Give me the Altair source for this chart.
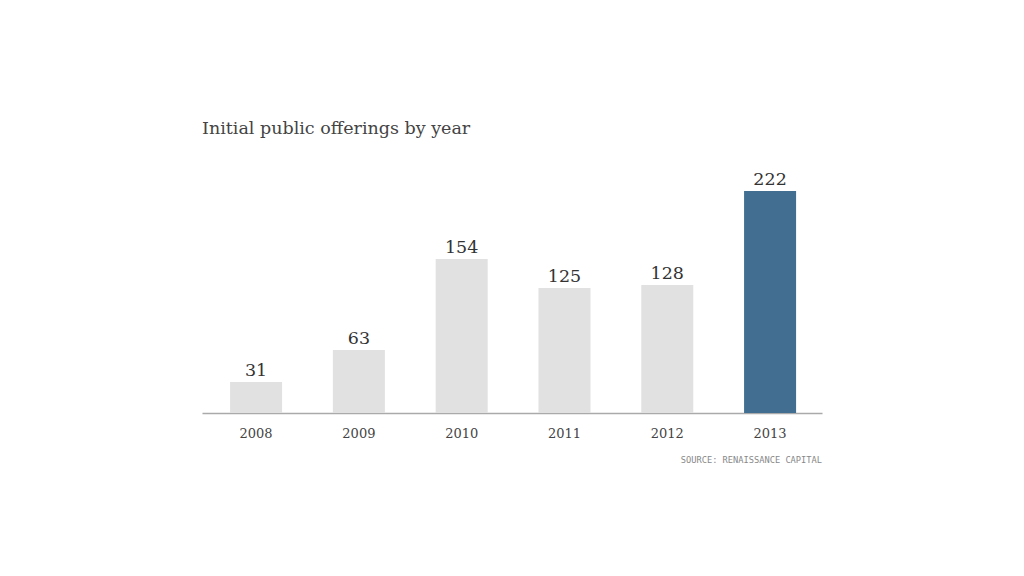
import altair as alt
import pandas as pd

years = ["2008", "2009", "2010", "2011", "2012", "2013"]
ipos = [31, 63, 154, 125, 128, 222]
highlight = [False, False, False, False, False, True]
title_text = "Initial public offerings by year"
source_text = "SOURCE: RENAISSANCE CAPITAL"

df = pd.DataFrame({"year": years, "ipos": ipos, "hl": highlight})
src = pd.DataFrame({"t": [source_text]})

SERIF = "DejaVu Serif"

x = alt.X("year:N", sort=years, title=None,
          scale=alt.Scale(paddingInner=0.494, paddingOuter=0.2626, align=0.52),
          axis=alt.Axis(labelAngle=0, ticks=False, domainColor="#aaaaaa", domainWidth=1.5,
                        labelFont=SERIF, labelFontSize=13, labelColor="#444444",
                        labelPadding=14))
y = alt.Y("ipos:Q", title=None, scale=alt.Scale(domain=[0, 250], nice=False),
          axis=None)

bars = alt.Chart(df).mark_bar().encode(
    x=x, y=y,
    color=alt.Color("hl:N", scale=alt.Scale(domain=[False, True], range=["#e1e1e1", "#426f91"]),
                    legend=None),
)
labels = alt.Chart(df).mark_text(dy=-2, baseline="bottom", font=SERIF, fontSize=17.5,
                                 color="#333333").encode(x=x, y=y, text="ipos:Q")
source = alt.Chart(src).mark_text(align="right", baseline="middle", font="DejaVu Sans Mono",
                                  fontSize=8.7, color="#888888").encode(
    x=alt.value(620), y=alt.value(297), text="t:N")

chart = alt.layer(bars, labels, source).properties(
    width=620, height=250,
    autosize=alt.AutoSizeParams(type="none"),
    padding={"left": 194, "top": 155, "right": 194, "bottom": 150},
    title=alt.TitleParams(title_text, anchor="start", font=SERIF, fontSize=17.5,
                          fontWeight="normal", color="#444444", offset=26),
).configure_view(stroke=None)

chart.save("out.html", embed_options={"renderer": "svg", "actions": False})
